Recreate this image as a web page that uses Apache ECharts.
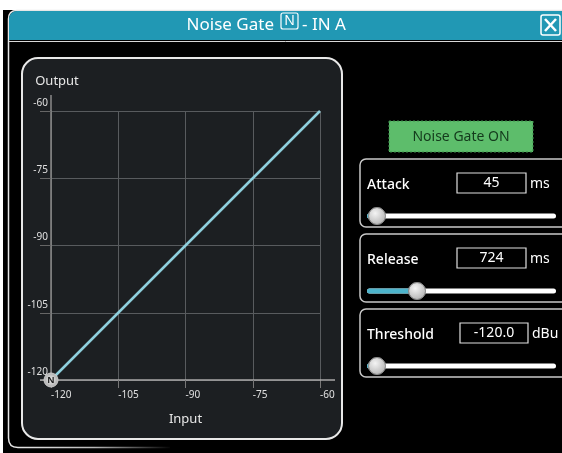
<!DOCTYPE html>
<html>
<head>
<meta charset="utf-8">
<script src="https://cdn.jsdelivr.net/npm/echarts@6/dist/echarts.min.js"></script>
<style>
html,body{margin:0;padding:0;background:#ffffff;}
#c{width:562px;height:453px;}
</style>
</head>
<body>
<div id="c"></div>
<script>
// Data
const inputDb = [-120, -60];
const outputDb = [-120, -60];
const axisMin = -120, axisMax = -60, axisStep = 15;
const titleText = 'Noise Gate';
const titleTail = '- IN A';
const gateButton = 'Noise Gate ON';
const params = [
  { name: 'Attack', value: '45', unit: 'ms', frac: 0.0, fill: false },
  { name: 'Release', value: '724', unit: 'ms', frac: 0.237, fill: true },
  { name: 'Threshold', value: '-120.0', unit: 'dBu', frac: 0.0, fill: false }
];

const FONT = '"Noto Sans", "Open Sans", sans-serif';
const chart = echarts.init(document.getElementById('c'), null, { renderer: 'canvas' });

const lineData = inputDb.map((x, i) => i === 0
  ? { value: [x, outputDb[i]], symbol: 'circle', symbolSize: 14 }
  : { value: [x, outputDb[i]], symbol: 'none' });

// UI panels (decorative)
const BORDER = '#e6e6e6';
const ui = [];
ui.push({ type: 'rect', shape: { x: 3, y: 10, width: 562, height: 446 }, style: { fill: '#000' }, z: -10 });
ui.push({ type: 'line', shape: { x1: 8.5, y1: 438, x2: 8.5, y2: 19 }, style: { stroke: BORDER, lineWidth: 1.5 }, z: -9 });
ui.push({ type: 'bezierCurve', shape: { x1: 8.5, y1: 19, cpx1: 8.5, cpy1: 10.5, x2: 17, y2: 10.5 }, style: { fill: 'none', stroke: BORDER, lineWidth: 1.5 }, z: -9 });
ui.push({ type: 'line', shape: { x1: 17, y1: 10.5, x2: 562, y2: 10.5 }, style: { stroke: BORDER, lineWidth: 1.5 }, z: -9 });
ui.push({ type: 'bezierCurve', shape: { x1: 8.5, y1: 438, cpx1: 8.5, cpy1: 447.5, x2: 18, y2: 447.5 }, style: { fill: 'none', stroke: BORDER, lineWidth: 1.5 }, z: -9 });
ui.push({ type: 'line', shape: { x1: 18, y1: 447.5, x2: 170, y2: 447.5 }, style: { stroke: new echarts.graphic.LinearGradient(0, 0, 1, 0, [{ offset: 0, color: '#e6e6e6' }, { offset: 0.5, color: 'rgba(230,230,230,0.8)' }, { offset: 1, color: 'rgba(230,230,230,0)' }]), lineWidth: 1.5 }, z: -9 });
ui.push({ type: 'rect', shape: { x: 9, y: 11, width: 560, height: 29, r: [8, 0, 0, 0] }, style: { fill: '#2198b4' }, z: -8 });
ui.push({ type: 'line', shape: { x1: 9, y1: 41.5, x2: 562, y2: 41.5 }, style: { stroke: '#d8d8d8', lineWidth: 1 }, z: -8 });
// title
ui.push({ type: 'text', style: { text: titleText, x: 274, y: 25, align: 'right', verticalAlign: 'middle', fill: '#ffffff', font: '17px ' + FONT }, z: 5 });
ui.push({ type: 'rect', shape: { x: 281, y: 13, width: 17, height: 16, r: 2 }, style: { fill: 'none', stroke: '#ffffff', lineWidth: 1.2 }, z: 5 });
ui.push({ type: 'text', style: { text: 'N', x: 289.5, y: 21.5, align: 'center', verticalAlign: 'middle', fill: '#ffffff', font: '14px ' + FONT }, z: 5 });
ui.push({ type: 'text', style: { text: titleTail, x: 302, y: 25, align: 'left', verticalAlign: 'middle', fill: '#ffffff', font: '17px ' + FONT }, z: 5 });
// close button
ui.push({ type: 'rect', shape: { x: 541, y: 15, width: 19, height: 20, r: 2 }, style: { fill: 'none', stroke: '#ffffff', lineWidth: 1.5 }, z: 5 });
ui.push({ type: 'line', shape: { x1: 545, y1: 19, x2: 556, y2: 31 }, style: { stroke: '#ffffff', lineWidth: 2.5 }, z: 5 });
ui.push({ type: 'line', shape: { x1: 556, y1: 19, x2: 545, y2: 31 }, style: { stroke: '#ffffff', lineWidth: 2.5 }, z: 5 });
// chart panel
ui.push({ type: 'rect', shape: { x: 22, y: 58, width: 320, height: 381, r: 16 }, style: { fill: '#1c1f22', stroke: '#e8e8e8', lineWidth: 2 }, z: -5 });
// gate button
ui.push({ type: 'rect', shape: { x: 389, y: 121, width: 144, height: 31 }, style: { fill: '#5dbd6b', stroke: '#3f8f4c', lineWidth: 1, lineDash: [2, 2] }, z: 5 });
ui.push({ type: 'text', style: { text: gateButton, x: 461, y: 137, align: 'center', verticalAlign: 'middle', fill: '#143a1c', font: '14px ' + FONT }, z: 6 });
// parameter panels
const panelTops = [159, 234, 309];
params.forEach((p, i) => {
  const top = panelTops[i];
  const boxX = i === 2 ? 460 : 457;
  const boxW = i === 2 ? 68 : 69;
  ui.push({ type: 'rect', shape: { x: 360, y: top, width: 210, height: 68, r: 6 }, style: { fill: '#000', stroke: '#c9c9c9', lineWidth: 1.5 }, z: 4 });
  ui.push({ type: 'text', style: { text: p.name, x: 367, y: top + 26, align: 'left', verticalAlign: 'middle', fill: '#ffffff', font: '500 14px ' + FONT }, z: 6 });
  ui.push({ type: 'rect', shape: { x: boxX, y: top + 14, width: boxW, height: 20 }, style: { fill: '#000', stroke: '#e0e0e0', lineWidth: 1.2 }, z: 5 });
  ui.push({ type: 'text', style: { text: p.value, x: boxX + boxW / 2, y: top + 24, align: 'center', verticalAlign: 'middle', fill: '#ffffff', font: '14px ' + FONT }, z: 6 });
  ui.push({ type: 'text', style: { text: p.unit, x: boxX + boxW + 4, y: top + 25, align: 'left', verticalAlign: 'middle', fill: '#ffffff', font: '14px ' + FONT }, z: 6 });
  const ty = top + 57;
  const tx0 = 367, tx1 = 556;
  const thumbX = tx0 + 10 + p.frac * (tx1 - tx0 - 20);
  ui.push({ type: 'rect', shape: { x: tx0, y: ty - 2.5, width: tx1 - tx0, height: 5, r: 2.5 }, style: { fill: '#ffffff' }, z: 6 });
  ui.push({ type: 'rect', shape: { x: tx0, y: ty - 2.5, width: p.fill ? thumbX - tx0 : 4, height: 5, r: 2.5 }, style: { fill: '#4db4cc' }, z: 7 });
  ui.push({ type: 'circle', shape: { cx: thumbX, cy: ty, r: 8.5 }, style: { fill: new echarts.graphic.RadialGradient(0.4, 0.35, 0.8, [{ offset: 0, color: '#f4f4f4' }, { offset: 1, color: '#a8a8a8' }]), stroke: '#8a8a8a', lineWidth: 0.8 }, z: 8 });
});

chart.setOption({
  animation: false,
  backgroundColor: '#ffffff',
  textStyle: { fontFamily: FONT },
  grid: { left: 51, right: 242, top: 111, bottom: 73, containLabel: false },
  xAxis: {
    type: 'value', min: axisMin, max: axisMax, interval: axisStep,
    name: 'Input', nameLocation: 'middle', nameGap: 33,
    nameTextStyle: { color: '#e8e8e8', fontSize: 13, fontFamily: FONT },
    axisLine: { show: true, onZero: false, lineStyle: { color: '#a8a8a8', width: 1.5 } },
    axisTick: { show: true, length: 8, inside: false, lineStyle: { color: '#777' } },
    axisLabel: { color: '#e0e0e0', fontSize: 10, margin: 10, align: 'left', fontFamily: FONT },
    splitLine: { show: true, lineStyle: { color: '#585b5e', width: 1 } }
  },
  yAxis: {
    type: 'value', min: axisMin, max: axisMax, interval: axisStep,
    name: 'Output', nameLocation: 'end', nameGap: 23,
    nameTextStyle: { color: '#e8e8e8', fontSize: 13, fontFamily: FONT, align: 'center', padding: [0, 0, 0, 12] },
    axisLine: { show: true, onZero: false, lineStyle: { color: '#8a8a8a', width: 1.5 } },
    axisTick: { show: true, length: 11, inside: false, lineStyle: { color: '#666' } },
    axisLabel: { color: '#e0e0e0', fontSize: 10, margin: 3, verticalAlign: 'bottom', padding: [0, 0, 3, 0], fontFamily: FONT },
    splitLine: { show: true, lineStyle: { color: '#585b5e', width: 1 } }
  },
  series: [{
    type: 'line',
    data: lineData,
    lineStyle: { color: '#8fd0de', width: 2.5 },
    itemStyle: { color: new echarts.graphic.RadialGradient(0.5, 0.5, 0.6, [{ offset: 0, color: '#f0f0f0' }, { offset: 1, color: '#9a9a9a' }]), borderColor: '#cfcfcf', borderWidth: 1 },
    label: { show: true, formatter: (d) => d.dataIndex === 0 ? 'N' : '', position: 'inside', color: '#222', fontSize: 9, fontWeight: 'bold' },
    z: 5
  }],
  graphic: ui
});

// axis line extensions beyond the plotted range
const p0 = chart.convertToPixel({ gridIndex: 0 }, [axisMin, axisMin]);
const p1 = chart.convertToPixel({ gridIndex: 0 }, [axisMax, axisMax]);
chart.setOption({
  graphic: ui.concat([
    { type: 'line', shape: { x1: p0[0], y1: p1[1] - 16, x2: p0[0], y2: p1[1] }, style: { stroke: '#8a8a8a', lineWidth: 1.5 }, z: 3 },
    { type: 'line', shape: { x1: p0[0] - 11, y1: p0[1], x2: p0[0], y2: p0[1] }, style: { stroke: '#a8a8a8', lineWidth: 1.5 }, z: 3 },
    { type: 'line', shape: { x1: p1[0], y1: p0[1], x2: p1[0] + 15, y2: p0[1] }, style: { stroke: '#a8a8a8', lineWidth: 1.5 }, z: 3 }
  ])
});
</script>
</body>
</html>
